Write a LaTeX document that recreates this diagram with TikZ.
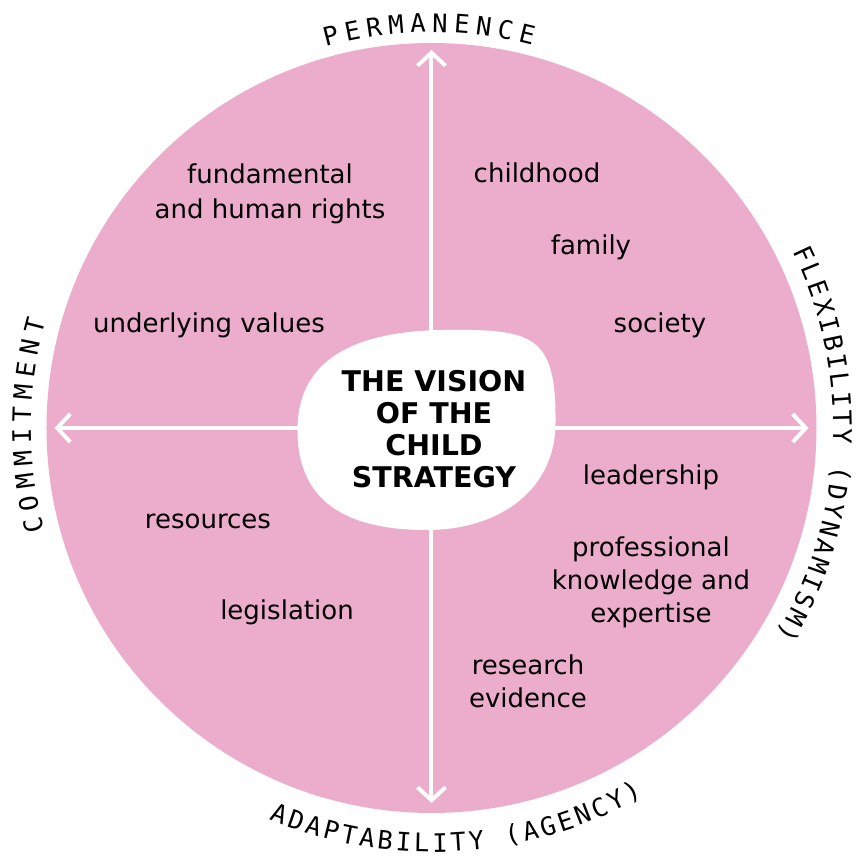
\documentclass[tikz,border=0pt]{standalone}
\usepackage{fontspec}
\setmainfont{DejaVu Sans}
\newfontfamily\ringfont{DejaVu Sans Mono}
\usetikzlibrary{arrows.meta}
\definecolor{petal}{RGB}{236,173,205}

\begin{document}
\begin{tikzpicture}[x=1pt,y=1pt,
  item/.style={font=\fontsize{26}{33}\selectfont, align=center, inner sep=0pt},
  core/.style={font=\fontsize{28.5}{32}\selectfont\bfseries, align=center, inner sep=0pt},
  ring/.style={font=\fontsize{25.5}{25.5}\selectfont\ringfont, inner sep=0pt},
  axis/.style={draw=white, line width=4pt, -{Straight Barb[length=13pt,width=28pt]}}]

\useasboundingbox (-431.5,-430) rectangle (433.5,428);

% disc
\fill[petal] (0,0) circle[radius=385];

% axes
\coordinate (c) at (0,0);
\coordinate (up) at (90:378);
\coordinate (down) at (270:375);
\coordinate (left) at (180:377);
\coordinate (right) at (0:377);
\draw[axis] (c) -- (up);
\draw[axis] (c) -- (down);
\draw[axis] (c) -- (left);
\draw[axis] (c) -- (right);

% central blob
\fill[white] (-134,-2)
  .. controls (-134,60) and (-90,96) .. (10,98)
  .. controls (100,99) and (125,95) .. (124,5)
  .. controls (124,-60) and (70,-102) .. (-5,-102)
  .. controls (-90,-102) and (-134,-70) .. cycle;
\node[core] (vision) at (2.5,-1) {THE VISION\\OF THE\\CHILD\\STRATEGY};

% quadrant items
\node[item, font=\fontsize{26}{35}\selectfont] (rights) at (-161.5,234.5) {fundamental\\and human rights};
\node[item, anchor=base] (values) at (-222.5,95) {underlying values};
\node[item, anchor=base] (childhood) at (105.5,245) {childhood};
\node[item, anchor=base] (family) at (159.5,173) {family};
\node[item, anchor=base] (society) at (228.5,95) {society};
\node[item, anchor=base] (leadership) at (219.5,-57) {leadership};
\node[item] (expertise) at (219.5,-154) {professional\\knowledge and\\expertise};
\node[item, anchor=base] (resources) at (-223.5,-101) {resources};
\node[item, anchor=base] (legislation) at (-144.5,-192) {legislation};
\node[item] (evidence) at (96.5,-253.5) {research\\evidence};

% lettering around the rim
\foreach \ch [count=\i] in {P,E,R,M,A,N,E,N,C,E}
  \node[ring, rotate={104.4-3.12*(\i-1)-90}] (perm\i) at ({104.4-3.12*(\i-1)}:405) {\ch};
\foreach \ch [count=\i] in {C,O,M,M,I,T,M,E,N,T}
  \node[ring, rotate={193.7-3.13*(\i-1)-90}] (comm\i) at ({193.7-3.13*(\i-1)}:410) {\ch};
\foreach \ch [count=\i] in {F,L,E,X,I,B,I,L,I,T,Y,~,{(},D,Y,N,A,M,I,S,M,{)}}
  \node[ring, rotate={25.0-2.62*(\i-1)-90}] (flex\i) at ({25.0-2.62*(\i-1)}:411) {\ch};
\foreach \ch [count=\i] in {A,D,A,P,T,A,B,I,L,I,T,Y,~,{(},A,G,E,N,C,Y,{)}}
  \node[ring, rotate={248.5+2.52*(\i-1)+90}] (adapt\i) at ({248.5+2.52*(\i-1)}:415) {\ch};
\end{tikzpicture}
\end{document}
